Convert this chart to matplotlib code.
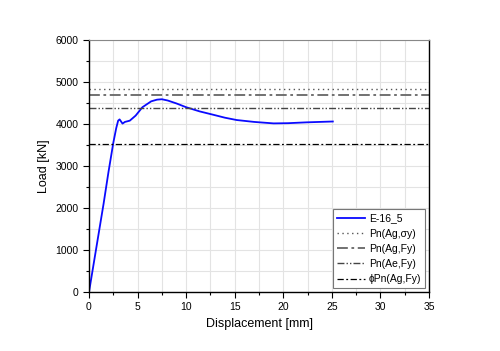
import matplotlib.pyplot as plt
from matplotlib.ticker import MultipleLocator

plt.rcParams['font.family'] = ['Liberation Sans', 'DejaVu Sans']

# E-16_5 load-displacement curve
disp = [0.0, 0.5, 1.0, 1.5, 2.0, 2.5, 2.8, 3.0, 3.15, 3.3, 3.45, 3.7, 4.2, 4.8,
        5.5, 6.4, 7.0, 7.5, 8.1, 9.0, 10.0, 11.4, 12.8, 14.0, 15.2, 17.0,
        19.0, 20.5, 22.4, 25.1]
load = [0, 700, 1400, 2100, 2850, 3550, 3900, 4080, 4110, 4060, 4010, 4050,
        4080, 4200, 4400, 4540, 4580, 4590, 4560, 4490, 4400, 4300, 4220,
        4150, 4095, 4050, 4015, 4020, 4040, 4060]

# nominal capacities (kN)
cap_names = ['Pn(Ag,σy)', 'Pn(Ag,Fy)', 'Pn(Ae,Fy)', 'ϕPn(Ag,Fy)']
cap_values = [4840, 4690, 4380, 3525]

fig = plt.figure(figsize=(5.0, 3.51), dpi=100)
ax = fig.add_axes([0.178, 0.168, 0.68, 0.718])

ax.plot(disp, load, color='#0a0aff', lw=1.3, label='E-16_5')
styles = [
    dict(color='#555555', lw=1.0, dashes=(1, 2.5)),
    dict(color='#666666', lw=1.3, dashes=(6, 2, 1.5, 2)),
    dict(color='#444444', lw=1.0, dashes=(5, 1.5, 1, 1.5, 1, 1.5)),
    dict(color='black', lw=0.9, dashes=(5, 2, 1.5, 2)),
]
for name, value, style in zip(cap_names, cap_values, styles):
    ax.axhline(value, label=name, **style)

ax.set_xlim(0, 35)
ax.set_ylim(0, 6000)
ax.xaxis.set_major_locator(MultipleLocator(5))
ax.xaxis.set_minor_locator(MultipleLocator(2.5))
ax.yaxis.set_major_locator(MultipleLocator(1000))
ax.yaxis.set_minor_locator(MultipleLocator(500))
ax.grid(which='both', color='#e3e3e3', lw=0.8)
ax.set_axisbelow(True)
ax.tick_params(which='major', direction='out', length=4, width=0.8, labelsize=7.5)
ax.tick_params(which='minor', direction='out', length=2.5, width=0.8)
ax.spines['top'].set_color('#888888')
for side in ['left', 'bottom', 'right']:
    ax.spines[side].set_linewidth(1.0)

ax.set_xlabel('Displacement [mm]', fontsize=9)
ax.set_ylabel('Load [kN]', fontsize=9)

leg = ax.legend(loc='lower right', fontsize=7.5, fancybox=False, framealpha=1,
                edgecolor='#777777', handlelength=2.6, handletextpad=0.4,
                labelspacing=0.5, borderpad=0.4, borderaxespad=0.35,
                bbox_to_anchor=(1.0, 0.0))
leg.get_frame().set_linewidth(0.8)

fig.savefig('out.png')
